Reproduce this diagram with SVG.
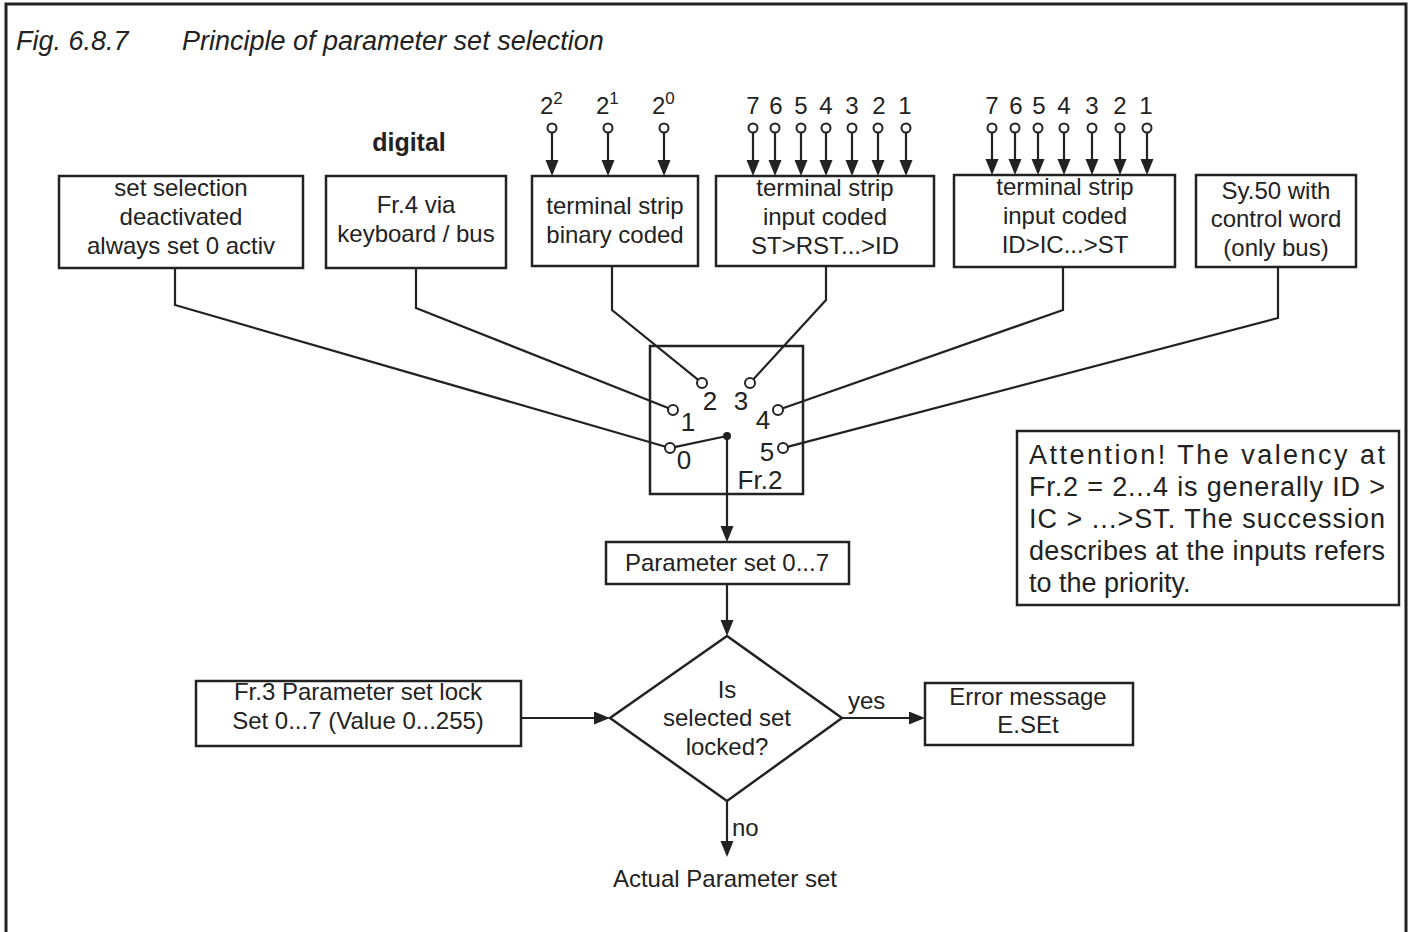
<svg xmlns="http://www.w3.org/2000/svg" width="1413" height="932" viewBox="0 0 1413 932">
<style>
text{font-family:"Liberation Sans",Arial,Helvetica,sans-serif;font-size:24px;fill:#222}
.c{text-anchor:middle}
.box{fill:#fff;stroke:#222;stroke-width:2.5}
.ln{fill:none;stroke:#222;stroke-width:2.2}
.term{fill:#fff;stroke:#222;stroke-width:2}
.title{font-style:italic;font-size:27px}
.sw{font-size:26px}
.note{font-size:27px}
</style>
<defs>
<marker id="ah" markerUnits="userSpaceOnUse" markerWidth="17" markerHeight="14" refX="13" refY="6.5" orient="auto">
<path d="M0,0 L16,6.5 L0,13 z" fill="#222"/>
</marker>
</defs>
<rect width="1413" height="932" fill="#fff"/>
<path d="M6,940 V4 H1406 V940" fill="none" stroke="#222" stroke-width="3"/>
<g id="title">
<text class="title" x="16" y="50">Fig. 6.8.7</text>
<text class="title" x="182" y="50">Principle of parameter set selection</text>
</g>
<text x="409" y="151" class="c" style="font-weight:bold;font-size:25px">digital</text>
<g id="n-deactivated">
<rect class="box" x="59" y="176" width="244" height="92"/>
<text class="c" x="181" y="196">set selection</text>
<text class="c" x="181" y="225">deactivated</text>
<text class="c" x="181" y="254">always set 0 activ</text>
</g>
<g id="n-fr4">
<rect class="box" x="326" y="176" width="180" height="92"/>
<text class="c" x="416" y="213">Fr.4 via</text>
<text class="c" x="416" y="242">keyboard / bus</text>
</g>
<g id="n-binary">
<rect class="box" x="532" y="176" width="166" height="90"/>
<text class="c" x="615" y="214">terminal strip</text>
<text class="c" x="615" y="243">binary coded</text>
<text x="540" y="114">2<tspan dy="-10" font-size="17">2</tspan></text>
<text x="596" y="114">2<tspan dy="-10" font-size="17">1</tspan></text>
<text x="652" y="114">2<tspan dy="-10" font-size="17">0</tspan></text>
</g>
<g id="n-strdown">
<rect class="box" x="716" y="176" width="218" height="90"/>
<text class="c" x="825" y="196">terminal strip</text>
<text class="c" x="825" y="225">input coded</text>
<text class="c" x="825" y="254">ST&gt;RST...&gt;ID</text>
<text class="c" x="753" y="114">7</text>
<text class="c" x="776" y="114">6</text>
<text class="c" x="801" y="114">5</text>
<text class="c" x="826" y="114">4</text>
<text class="c" x="852" y="114">3</text>
<text class="c" x="879" y="114">2</text>
<text class="c" x="905" y="114">1</text>
</g>
<g id="n-idup">
<rect class="box" x="954" y="175" width="221" height="92"/>
<text class="c" x="1065" y="195">terminal strip</text>
<text class="c" x="1065" y="224">input coded</text>
<text class="c" x="1065" y="253">ID&gt;IC...&gt;ST</text>
<text class="c" x="992" y="114">7</text>
<text class="c" x="1016" y="114">6</text>
<text class="c" x="1039" y="114">5</text>
<text class="c" x="1064" y="114">4</text>
<text class="c" x="1092" y="114">3</text>
<text class="c" x="1120" y="114">2</text>
<text class="c" x="1146" y="114">1</text>
</g>
<g id="n-sy50">
<rect class="box" x="1196" y="175" width="160" height="92"/>
<text class="c" x="1276" y="199">Sy.50 with</text>
<text class="c" x="1276" y="227">control word</text>
<text class="c" x="1276" y="256">(only bus)</text>
</g>
<g id="n-switch">
<rect class="box" x="650" y="346" width="153" height="148"/>
<text class="c sw" x="684" y="469">0</text>
<text class="c sw" x="688" y="431">1</text>
<text class="c sw" x="710" y="410">2</text>
<text class="c sw" x="741" y="410">3</text>
<text class="c sw" x="763" y="429">4</text>
<text class="c sw" x="767" y="461">5</text>
<text class="c sw" x="760" y="489">Fr.2</text>
</g>
<g id="n-param">
<rect class="box" x="606" y="542" width="243" height="42"/>
<text class="c" x="727" y="571">Parameter set 0...7</text>
</g>
<g id="n-lock">
<rect class="box" x="196" y="681" width="325" height="65"/>
<text class="c" x="358" y="700">Fr.3 Parameter set lock</text>
<text class="c" x="358" y="729">Set 0...7 (Value 0...255)</text>
</g>
<g id="n-decision">
<path class="box" d="M727,636 L842,718 L727,801 L610,718 z"/>
<text class="c" x="727" y="698">Is</text>
<text class="c" x="727" y="726">selected set</text>
<text class="c" x="727" y="755">locked?</text>
</g>
<g id="n-error">
<rect class="box" x="925" y="683" width="208" height="62"/>
<text class="c" x="1028" y="705">Error message</text>
<text class="c" x="1028" y="733">E.SEt</text>
</g>
<g id="n-actual">
<text class="c" x="725" y="887">Actual Parameter set</text>
</g>
<g id="n-note">
<rect class="box" x="1017" y="431" width="382" height="174"/>
<text class="note" x="1029" y="464" textLength="356" lengthAdjust="spacing">Attention! The valency at</text>
<text class="note" x="1029" y="496" textLength="356" lengthAdjust="spacing">Fr.2 = 2...4 is generally ID &gt;</text>
<text class="note" x="1029" y="528" textLength="356" lengthAdjust="spacing">IC &gt; ...&gt;ST. The succession</text>
<text class="note" x="1029" y="560" textLength="356" lengthAdjust="spacing">describes at the inputs refers</text>
<text class="note" x="1029" y="592">to the priority.</text>
</g>
<g id="connectors">
<g class="ln">
<path d="M552,132.5 V173" marker-end="url(#ah)"/>
<path d="M608,132.5 V173" marker-end="url(#ah)"/>
<path d="M664,132.5 V173" marker-end="url(#ah)"/>
<path d="M753,132.5 V173" marker-end="url(#ah)"/>
<path d="M775,132.5 V173" marker-end="url(#ah)"/>
<path d="M801,132.5 V173" marker-end="url(#ah)"/>
<path d="M826,132.5 V173" marker-end="url(#ah)"/>
<path d="M852,132.5 V173" marker-end="url(#ah)"/>
<path d="M878,132.5 V173" marker-end="url(#ah)"/>
<path d="M906,132.5 V173" marker-end="url(#ah)"/>
<path d="M992,132.5 V172" marker-end="url(#ah)"/>
<path d="M1015,132.5 V172" marker-end="url(#ah)"/>
<path d="M1038,132.5 V172" marker-end="url(#ah)"/>
<path d="M1064,132.5 V172" marker-end="url(#ah)"/>
<path d="M1092,132.5 V172" marker-end="url(#ah)"/>
<path d="M1120,132.5 V172" marker-end="url(#ah)"/>
<path d="M1147,132.5 V172" marker-end="url(#ah)"/>
<path d="M175,268 V305 L665.7,446.7"/>
<path d="M416,268 V308 L668.8,408.3"/>
<path d="M612,266 V310 L698.5,380.2"/>
<path d="M826,266 V300 L753,379.7"/>
<path d="M1063,267 V310 L782.2,408.5"/>
<path d="M1278,267 V318 L787.4,446.9"/>
<path d="M674.4,447.1 L727,436"/>
<path d="M727,436 V539" marker-end="url(#ah)"/>
<path d="M727,584 V633" marker-end="url(#ah)"/>
<path d="M521,718 H607" marker-end="url(#ah)"/>
<path d="M842,718 H922" marker-end="url(#ah)"/>
<path d="M727,801 V854" marker-end="url(#ah)"/>
</g>
<text x="848" y="709">yes</text>
<text x="732" y="836">no</text>
<g class="term">
<circle cx="552" cy="128" r="4.5"/><circle cx="608" cy="128" r="4.5"/><circle cx="664" cy="128" r="4.5"/>
<circle cx="753" cy="128" r="4.5"/><circle cx="775" cy="128" r="4.5"/><circle cx="801" cy="128" r="4.5"/><circle cx="826" cy="128" r="4.5"/><circle cx="852" cy="128" r="4.5"/><circle cx="878" cy="128" r="4.5"/><circle cx="906" cy="128" r="4.5"/>
<circle cx="992" cy="128" r="4.5"/><circle cx="1015" cy="128" r="4.5"/><circle cx="1038" cy="128" r="4.5"/><circle cx="1064" cy="128" r="4.5"/><circle cx="1092" cy="128" r="4.5"/><circle cx="1120" cy="128" r="4.5"/><circle cx="1147" cy="128" r="4.5"/>
<circle cx="670" cy="448" r="5"/><circle cx="673" cy="410" r="5"/><circle cx="702" cy="383" r="5"/><circle cx="750" cy="383" r="5"/><circle cx="778" cy="410" r="5"/><circle cx="783" cy="448" r="5"/>
</g>
<circle cx="727" cy="436" r="4" fill="#222"/>
</g>
</svg>
